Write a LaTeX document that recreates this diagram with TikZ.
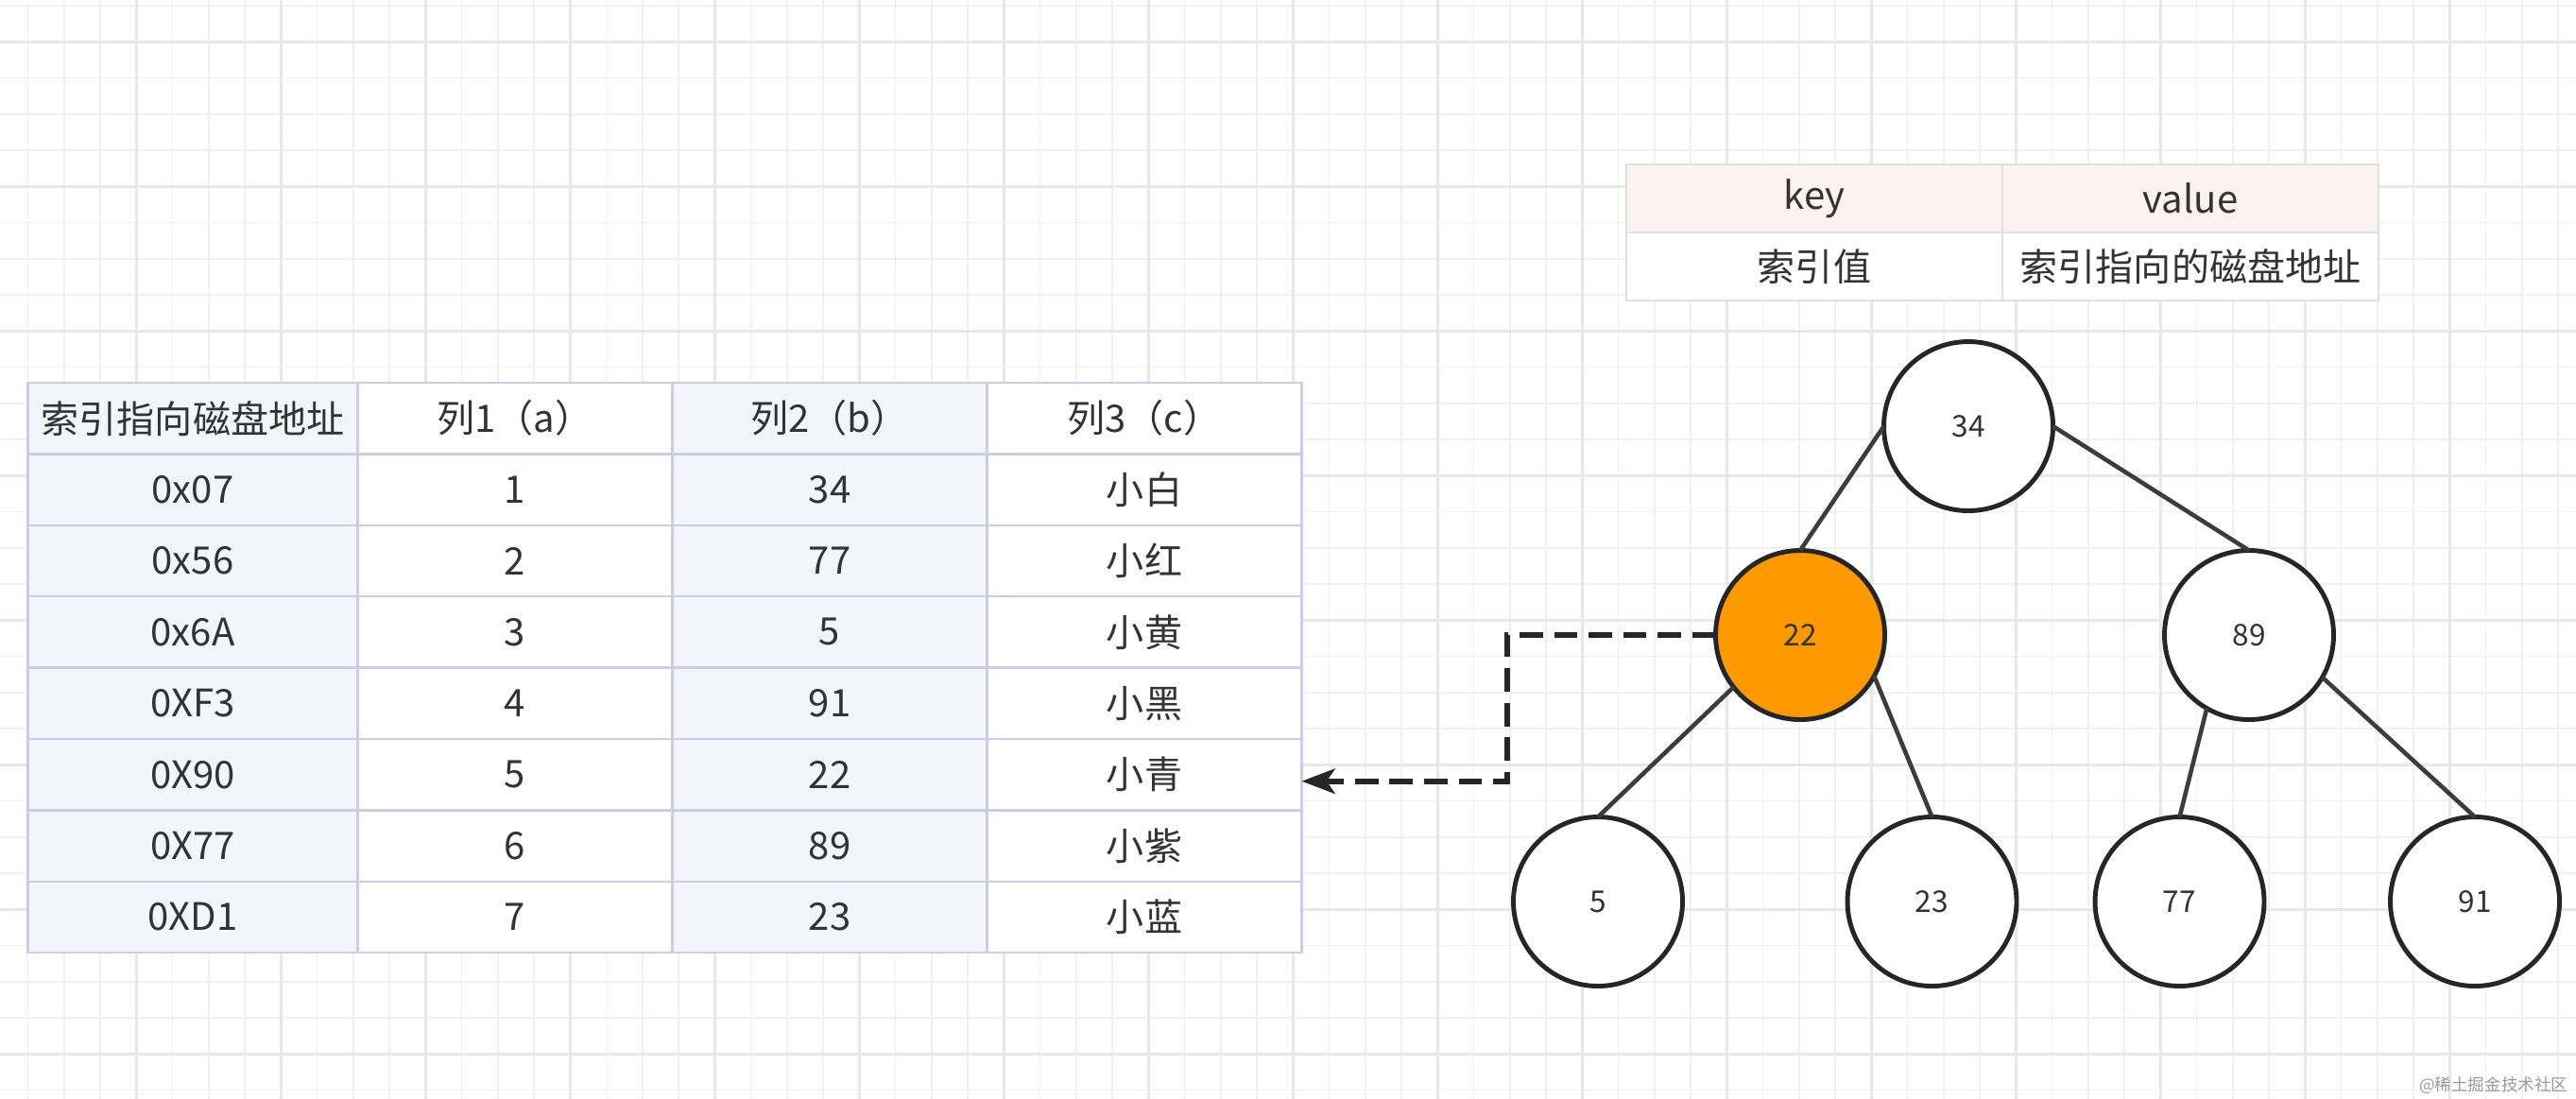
\documentclass[tikz,border=0pt]{standalone}
\usepackage{fontspec}
\setmainfont{Noto Sans CJK SC}
\definecolor{ink}{HTML}{333333}
\definecolor{stroke}{HTML}{262626}
\definecolor{tblline}{HTML}{CACCE8}
\definecolor{tint}{HTML}{F3F5FB}
\definecolor{kvline}{HTML}{E0E0E0}
\definecolor{kvhead}{HTML}{FCF2F0}
\definecolor{hot}{HTML}{FF9900}
\usepackage{tikz}
\usetikzlibrary{arrows.meta,positioning}
\tikzset{
  cell_tint/.style={draw=tblline,fill=tint,line width=0.7pt,inner sep=0pt,outer sep=0pt,
    minimum width=3.33cm,minimum height=0.754cm,font=\fontsize{11.4}{13}\selectfont\color{ink}},
  cell_plain/.style={cell_tint,fill=white},
  cell_key/.style={cell_tint,minimum width=3.49cm},
  kv_head/.style={draw=kvline,fill=kvhead,line width=0.7pt,inner sep=0pt,outer sep=0pt,
    minimum width=3.98cm,minimum height=0.72cm,font=\fontsize{11.4}{13}\selectfont\color{ink}},
  kv_cell/.style={kv_head,fill=white},
  tree_node/.style={circle,draw=stroke,fill=white,line width=1.4pt,inner sep=0pt,outer sep=0pt,
    minimum size=1.79cm,font=\fontsize{9}{11}\selectfont\color{ink}},
  tree_hot/.style={tree_node,fill=hot},
  edge_line/.style={draw=stroke!90,line width=1.3pt},
  arr_dash/.style={-{Stealth[length=10pt,width=7.5pt,inset=2.5pt]},draw=stroke,line width=1.7pt,
    dash pattern=on 7pt off 3.4pt},
  grid_minor/.style={draw=black!6,line width=0.5pt},
  grid_major/.style={draw=black!9,line width=0.8pt},
  mark_text/.style={font=\fontsize{5}{6}\selectfont\color{black!40},inner sep=0pt},
}
\begin{document}
\begin{tikzpicture}
    \useasboundingbox (0,0) rectangle (27.26,-11.62);
    \fill[white] (0,0) rectangle (27.26,-11.62);
    % background grid
    \begin{scope}
      \clip (0,0) rectangle (27.26,-11.62);
      \draw[grid_minor,shift={(0.295,-0.06)},step=0.3825] (-1,-12) grid (28,1);
      \draw[grid_major,shift={(1.4425,-0.443)},step=1.53] (-2,-12) grid (28,1);
    \end{scope}

    % record table
    \node[cell_key] (h1) at (2.04,-4.427) {索引指向磁盘地址};
    \node[cell_plain,right=0pt of h1] (h2) {列1（a）};
    \node[cell_tint,right=0pt of h2] (h3) {列2（b）};
    \node[cell_plain,right=0pt of h3] (h4) {列3（c）};
    \node[cell_key,below=0pt of h1] (r1c1) {0x07};\node[cell_plain,right=0pt of r1c1] (r1c2) {1};\node[cell_tint,right=0pt of r1c2] (r1c3) {34};\node[cell_plain,right=0pt of r1c3] (r1c4) {小白};
    \node[cell_key,below=0pt of r1c1] (r2c1) {0x56};\node[cell_plain,right=0pt of r2c1] (r2c2) {2};\node[cell_tint,right=0pt of r2c2] (r2c3) {77};\node[cell_plain,right=0pt of r2c3] (r2c4) {小红};
    \node[cell_key,below=0pt of r2c1] (r3c1) {0x6A};\node[cell_plain,right=0pt of r3c1] (r3c2) {3};\node[cell_tint,right=0pt of r3c2] (r3c3) {5};\node[cell_plain,right=0pt of r3c3] (r3c4) {小黄};
    \node[cell_key,below=0pt of r3c1] (r4c1) {0XF3};\node[cell_plain,right=0pt of r4c1] (r4c2) {4};\node[cell_tint,right=0pt of r4c2] (r4c3) {91};\node[cell_plain,right=0pt of r4c3] (r4c4) {小黑};
    \node[cell_key,below=0pt of r4c1] (r5c1) {0X90};\node[cell_plain,right=0pt of r5c1] (r5c2) {5};\node[cell_tint,right=0pt of r5c2] (r5c3) {22};\node[cell_plain,right=0pt of r5c3] (r5c4) {小青};
    \node[cell_key,below=0pt of r5c1] (r6c1) {0X77};\node[cell_plain,right=0pt of r6c1] (r6c2) {6};\node[cell_tint,right=0pt of r6c2] (r6c3) {89};\node[cell_plain,right=0pt of r6c3] (r6c4) {小紫};
    \node[cell_key,below=0pt of r6c1] (r7c1) {0XD1};\node[cell_plain,right=0pt of r7c1] (r7c2) {7};\node[cell_tint,right=0pt of r7c2] (r7c3) {23};\node[cell_plain,right=0pt of r7c3] (r7c4) {小蓝};

    % key / value legend
    \node[kv_head] (kk) at (19.20,-2.10) {key};
    \node[kv_head,right=0pt of kk] (kv) {value};
    \node[kv_cell,below=0pt of kk] (vk) {索引值};
    \node[kv_cell,right=0pt of vk] (vv) {索引指向的磁盘地址};

    % index tree
    \node[tree_node] (n34) at (20.83,-4.51) {34};
    \node[tree_hot] (n22) at (19.05,-6.72) {22};
    \node[tree_node] (n89) at (23.80,-6.72) {89};
    \node[tree_node] (n5) at (16.91,-9.54) {5};
    \node[tree_node] (n23) at (20.445,-9.54) {23};
    \node[tree_node] (n77) at (23.065,-9.54) {77};
    \node[tree_node] (n91) at (26.19,-9.54) {91};
    \draw[edge_line](n34.west)--(n22.north);\draw[edge_line](n34.east)--(n89.north);
    \draw[edge_line](n22.218)--(n5.north);\draw[edge_line](n22.-29)--(n23.north);
    \draw[edge_line](n89.240)--(n77.north);\draw[edge_line](n89.-30)--(n91.north);

    \coordinate (turn) at (15.95,-6.72);
    \draw[arr_dash] (n22.west) -- (turn) |- ([yshift=-0.07cm]r5c4.east);

    \node[mark_text,anchor=east] (wm) at (27.18,-11.49) {@稀土掘金技术社区};
  \end{tikzpicture}
\end{document}
